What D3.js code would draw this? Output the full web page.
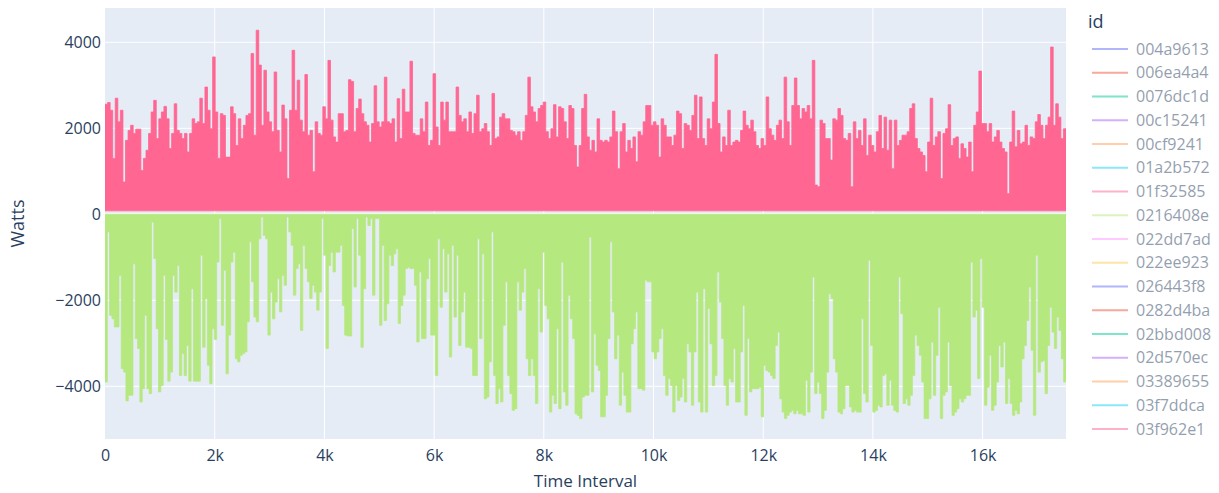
<!DOCTYPE html>
<html>
<head>
<meta charset="utf-8">
<script src="https://cdn.jsdelivr.net/npm/d3@7"></script>
<style>
  body { margin: 0; background: #fff; }
  svg text { font-family: "Open Sans", "DejaVu Sans", sans-serif; }
</style>
</head>
<body>
<div id="chart"></div>
<script>
// size of the page
var width = 1219;
var height = 493;

// plot area (not "top": that name is taken by window.top)
var plotLeft = 105, plotRight = 1066, plotTop = 8, plotBottom = 439;

// legend ids, in legend order
const ids = ["004a9613", "006ea4a4", "0076dc1d", "00c15241", "00cf9241", "01a2b572",
  "01f32585", "0216408e", "022dd7ad", "022ee923", "026443f8", "0282d4ba", "02bbd008",
  "02d570ec", "03389655", "03f7ddca", "03f962e1"];

const xTicks = [0, 2000, 4000, 6000, 8000, 10000, 12000, 14000, 16000];
const yTicks = [-4000, -2000, 0, 2000, 4000];
const xMax = 17520;

// consumption: daily peak, Watts
const pinkPeaks = [
  2560, 2600, 2420, 1300, 2700, 2150, 2420, 750, 1720, 1950, 2070, 1880, 1980, 1980, 1020, 1300,
  1490, 1880, 2380, 2650, 1760, 2220, 2380, 2510, 2220, 1530, 1880, 2570, 1950, 1880, 1760, 1880,
  1450, 1880, 2220, 2110, 2150, 2700, 2110, 2960, 2420, 1990, 3660, 2380, 1300, 2340, 2300, 1330,
  1330, 2500, 2340, 1600, 2220, 1760, 2070, 2300, 2340, 3740, 1840, 4280, 3470, 2070, 3350, 2380,
  2150, 1920, 3310, 1950, 1450, 2540, 2220, 830, 2420, 3815, 2420, 3120, 2190, 1920, 3250, 1840,
  1950, 990, 2150, 1880, 1840, 2500, 2220, 3580, 2190, 1800, 1680, 2340,
  2340, 1920, 1950, 3130, 3090, 1920, 2460, 2680, 2340, 2150, 2070, 1680, 2110, 2990, 2150, 2030,
  2150, 3190, 2150, 2110, 2220, 1680, 2690, 1760, 2910, 2380, 2380, 3560, 1880, 1840, 1840, 2220,
  1920, 2610, 1600, 1720, 3270, 2030, 1600, 2610, 2190, 2610, 1920, 1920, 1920, 2960, 2300, 2150,
  2220, 1920, 2380, 1880, 2340, 2770, 1920, 1990, 2110, 1920, 1600, 2810, 1760, 1800, 2260, 2340,
  2220, 2220, 1950, 1920, 1840, 1920, 1720, 1920, 2300, 3190, 2500, 2380, 2150, 2460, 2530, 2610,
  1920, 1760, 1990, 2550, 1800, 2500, 2460, 2150, 1760, 2530, 2460, 1600,
  1100, 1600, 2460, 2790, 1800, 1490, 1720, 1450, 2220, 1720, 1680, 1720, 1680, 1800, 2400, 1920,
  1060, 1920, 2110, 1450, 1720, 1530, 1800, 1220, 1920, 1840, 2150, 2530, 2530, 2070, 2150, 2070,
  1330, 2220, 2070, 1800, 1800, 1600, 1840, 2400, 2340, 1530, 2110, 2070, 1950, 2300, 2770, 1760,
  2730, 1760, 1600, 2220, 1990, 2610, 3720, 2110, 1450, 1800, 1600, 2420, 1600, 1680, 1720, 1680,
  1950, 2400, 2070, 1990, 2190, 1920, 1600, 1530, 1760, 1600, 2730, 1990, 1840, 1720, 2070, 2190,
  1760, 3190, 2150, 1600, 2530, 3170, 2530, 2220, 2460, 2380, 2530, 2220, 3580,
  680, 640, 2190, 2110, 1760, 1760, 1260, 2220, 2190, 2460, 2300, 1760, 1720, 1880, 640, 2150,
  1760, 1950, 1600, 2220, 1370, 1840, 1600, 1450, 1920, 2300, 1530, 2260, 1490, 2190, 1060, 2190,
  1600, 1720, 1840, 1840, 1920, 2460, 2570, 1760, 1530, 1450, 1370, 990, 1680, 2700, 1600, 1800,
  1920, 830, 1880, 1990, 2550, 1600, 1760, 1800, 1300, 1640, 1530, 1330, 1680, 990, 2070, 2380,
  3330, 2110, 2110, 1920, 2110, 1680, 1800, 1950, 1680, 1530, 1450, 480, 1680, 2400, 1570, 1950,
  1640, 1680, 2070, 1600, 1800, 1760, 2150, 2320, 2070, 1760, 2070, 2260, 3890, 2070, 2570, 2260,
  1760, 1990
];
const pinkFloor = 80;

// generation: daily trough, Watts
const greenTroughs = [
  -3900, -410, -2350, -2430, -2620, -2620, -1420, -3590, -3670, -4340, -4210, -4210, -1150, -2890,
  -3120, -4365, -4055, -2350, -4055, -4170, -180, -1030, -2660, -4130, -3980, -1420, -2910, -3880,
  -3670, -1420, -1810, -1190, -3750, -3240, -3750, -3050, -3880, -1730, -3880, -3880, -3880, -950,
  -3090, -1960, -3510, -3940, -2660, -2910, -1110, -100, -2580, -1300, -3710, -2810, -1110, -880,
  -3360, -3430, -3280, -3240, -3200, -2500, -640, -1570, -2390, -2500, -570, -60, -490, -570,
  -2810, -1810, -2430, -2040, -1500, -2270, -1420, -1650, -60, -410, -720, -1880, -1260, -1150,
  -2700, -720, -1260, -1570, -1960, -1650, -1810, -2230, -1810, -100, -950, -3120, -1190, -880,
  -1340, -880, -880, -720,
  -2120, -2810, -2830, -2830, -330, -1690, -100, -950, -3090, -1730, -60, -260, -100, -1880,
  -100, -100, -2580, -720, -2470, -2080, -950, -1190, -920, -800, -2540, -2120, -1880, -1260,
  -1230, -1260, -1260, -1650, -2970, -1340, -2890, -2890, -1500, -1030, -2810, -2810, -3750, -570,
  -2160, -800, -1810, -920, -3320, -720, -2390, -950, -3050, -2270, -1810, -3090, -3090, -3120,
  -3750, -3750, -570, -2890, -920, -4290, -4250, -3430, -410, -3750, -4400, -4055, -4365, -2580,
  -1570, -3750, -4170, -4560, -4520, -1570, -2230, -1810, -1260, -3360, -3750, -3360, -3750, -4400,
  -1730, -2740, -880, -2120, -2430, -4600, -4210, -4400, -2660, -4520, -1110, -4130, -4440, -1880,
  -2430, -2890, -4640,
  -4680, -4750, -4250, -4210, -4210, -530, -4130, -2780, -3510, -3630, -4710, -4710, -4210, -2890,
  -640, -2270, -3360, -2810, -4440, -3670, -4210, -4600, -4600, -3010, -2660, -2270, -4055, -4055,
  -4090, -1530, -1570, -1570, -3200, -3360, -3200, -2890, -2660, -3750, -4210, -3820, -3980, -4600,
  -3980, -4330, -4250, -3820, -4365, -3010, -3200, -4440, -3200, -1810, -4365, -4600, -1730, -4600,
  -2190, -3010, -3980, -3750, -1340, -2040, -2890, -3980, -4440, -3820, -3900, -3120, -4365, -4365,
  -3200, -2120, -4675, -2890, -4130, -4055, -4055, -4055, -4020, -4710, -3510, -3630, -3670, -3750,
  -3820, -3050, -2740, -4290, -4600, -4750, -4675, -4600, -4560, -4640, -4560, -4640, -4640, -4675,
  -3860, -4600, -3670, -1460, -4170, -3900,
  -4170, -4750, -4560, -3670, -1850, -1960, -3360, -3670, -4600, -4640, -4520, -3980, -3980, -4480,
  -4600, -4560, -4600, -4600, -2430, -4170, -4365, -1070, -3050, -4600, -4560, -4440, -4480, -3750,
  -3710, -4440, -3860, -4440, -4560, -4600, -1460, -2310, -4400, -4290, -4440, -4210, -3750, -2810,
  -3050, -3280, -3900, -4750, -4750, -4290, -2970, -4210, -3280, -2160, -4750, -4210, -4130, -2970,
  -3980, -4675, -4600, -4520, -4290, -4365, -4290, -4210, -4210, -1110, -2390, -2230, -3820, -1030,
  -2160, -4440, -4020, -3280, -4560, -4440, -3900, -3050, -3550, -2970, -4400, -3820, -4400, -4675,
  -4560, -4640, -4365, -3360, -3050, -2470, -1690, -3160, -4675, -950, -3670, -3430, -3400, -4170,
  -3050, -2160, -2740, -3120, -2390, -2700, -3360, -3900
];
const greenTop = 0;

// plotly default palette
const palette = ["#636EFA", "#EF553B", "#00CC96", "#AB63FA", "#FFA15A", "#19D3F3", "#FF6692",
  "#B6E880", "#FF97FF", "#FECB52"];

const x = d3.scaleLinear().domain([0, xMax]).range([plotLeft, plotRight]);
const y = d3.scaleLinear().domain([-5226, 4798]).range([plotBottom, plotTop]);

const svg = d3.select("#chart")
  .append("svg")
  .attr("width", width)
  .attr("height", height);

svg.append("rect")
  .attr("x", plotLeft).attr("y", plotTop)
  .attr("width", plotRight - plotLeft).attr("height", plotBottom - plotTop)
  .attr("fill", "#E5ECF6");

// grid
svg.append("g").selectAll("line")
  .data(xTicks.filter(d => d > 0))
  .enter().append("line")
  .attr("x1", d => x(d)).attr("x2", d => x(d))
  .attr("y1", plotTop).attr("y2", plotBottom)
  .attr("stroke", "#fff").attr("stroke-width", 1);

svg.append("g").selectAll("line")
  .data(yTicks)
  .enter().append("line")
  .attr("x1", plotLeft).attr("x2", plotRight)
  .attr("y1", d => y(d)).attr("y2", d => y(d))
  .attr("stroke", "#fff").attr("stroke-width", d => d === 0 ? 2 : 1);

svg.append("defs").append("clipPath").attr("id", "clip")
  .append("rect")
  .attr("x", plotLeft).attr("y", plotTop)
  .attr("width", plotRight - plotLeft).attr("height", plotBottom - plotTop);

// turn a list of daily values into points across the year
function toPoints(values) {
  const step = xMax / values.length;
  const pts = values.map((v, i) => [i * step, v]);
  pts.push([xMax, values[values.length - 1]]);
  return pts;
}

const plot = svg.append("g").attr("clip-path", "url(#clip)");

const greenArea = d3.area()
  .curve(d3.curveStepAfter)
  .x(d => x(d[0]))
  .y0(y(greenTop))
  .y1(d => y(d[1]));

plot.append("path")
  .datum(toPoints(greenTroughs))
  .attr("d", greenArea)
  .attr("fill", "#B6E880")
  .attr("stroke", "#B6E880")
  .attr("stroke-width", 0.8);

const pinkArea = d3.area()
  .curve(d3.curveStepAfter)
  .x(d => x(d[0]))
  .y0(y(pinkFloor))
  .y1(d => y(d[1]));

plot.append("path")
  .datum(toPoints(pinkPeaks))
  .attr("d", pinkArea)
  .attr("fill", "#FF6692")
  .attr("stroke", "#FF6692")
  .attr("stroke-width", 0.8);

// axes
const xAxis = d3.axisBottom(x)
  .tickValues(xTicks)
  .tickSize(0)
  .tickPadding(11)
  .tickFormat(d => d === 0 ? "0" : d3.format("~s")(d));

svg.append("g")
  .attr("transform", "translate(0," + plotBottom + ")")
  .call(xAxis)
  .call(g => g.select(".domain").remove())
  .selectAll("text")
  .attr("fill", "#2a3f5f")
  .style("font-size", "16px");

const yAxis = d3.axisLeft(y)
  .tickValues(yTicks)
  .tickSize(0)
  .tickPadding(4)
  .tickFormat(d3.format("d"));

svg.append("g")
  .attr("transform", "translate(" + plotLeft + ",0)")
  .call(yAxis)
  .call(g => g.select(".domain").remove())
  .selectAll("text")
  .attr("fill", "#2a3f5f")
  .style("font-size", "16px");

svg.append("text")
  .attr("x", (plotLeft + plotRight) / 2)
  .attr("y", 487)
  .attr("text-anchor", "middle")
  .attr("fill", "#2a3f5f")
  .style("font-size", "17px")
  .text("Time Interval");

svg.append("text")
  .attr("transform", "translate(24," + ((plotTop + plotBottom) / 2) + ") rotate(-90)")
  .attr("text-anchor", "middle")
  .attr("fill", "#2a3f5f")
  .style("font-size", "18px")
  .text("Watts");

// legend
const legend = svg.append("g").attr("transform", "translate(1088,0)");

legend.append("text")
  .attr("x", 0).attr("y", 28)
  .attr("fill", "#2a3f5f")
  .style("font-size", "18px")
  .text("id");

const item = legend.selectAll("g.item")
  .data(ids)
  .enter().append("g")
  .attr("class", "item")
  .attr("opacity", 0.5)
  .attr("transform", (d, i) => "translate(0," + (49 + i * 23.75) + ")");

item.append("line")
  .attr("x1", 4).attr("x2", 40)
  .attr("stroke", (d, i) => palette[i % palette.length])
  .attr("stroke-width", 2);

item.append("text")
  .attr("x", 48).attr("y", 0)
  .attr("dy", "0.35em")
  .attr("fill", "#2a3f5f")
  .style("font-size", "16px")
  .text(d => d);
</script>
</body>
</html>
